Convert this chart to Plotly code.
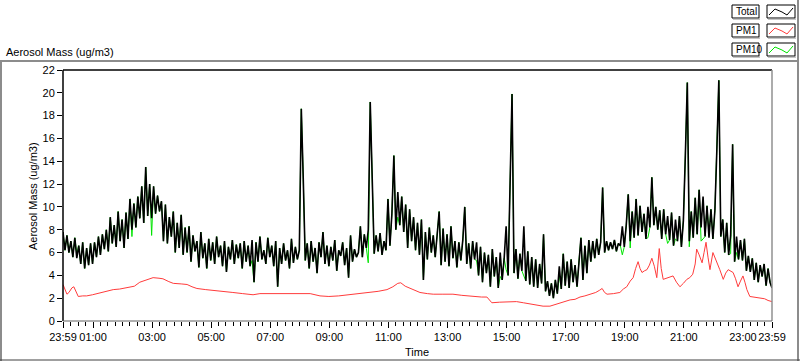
import plotly.graph_objects as go

# ---------------- data ----------------
# Total aerosol mass, one reading every 4 minutes starting at 23:59 (minute 0) to 23:59 next day (minute 1440)
total_values = [
    7.8, 6.2, 7.5, 6.0, 7.0, 5.6, 7.3, 5.5, 6.6, 5.0, 6.9, 4.6, 6.4, 4.9, 6.8,
    5.0, 6.9, 5.6, 7.4, 5.8, 7.6, 6.3, 8.0, 6.1, 9.1, 6.8, 8.4, 6.5, 9.6, 7.0,
    8.9, 6.4, 9.5, 7.2, 10.7, 8.0, 10.3, 8.2, 10.9, 9.0, 11.8, 8.6, 13.5, 9.2, 12.0,
    9.0, 11.8, 9.4, 11.0, 9.6, 10.5, 7.0, 10.2, 6.8, 9.1, 7.4, 9.6, 6.0, 8.6, 6.4,
    9.3, 5.8, 8.2, 6.0, 8.3, 5.2, 7.5, 6.1, 7.0, 4.7, 7.8, 5.5, 6.8, 4.6, 7.2,
    5.3, 6.9, 5.0, 7.4, 5.6, 6.6, 4.8, 7.0, 4.3, 6.5, 5.4, 7.1, 5.0, 6.7, 5.5,
    6.8, 4.6, 7.0, 5.2, 6.6, 4.8, 7.1, 3.4, 6.9, 5.2, 7.4, 5.4, 6.2, 5.0, 7.3,
    5.6, 6.6, 4.8, 7.0, 3.0, 6.4, 5.0, 6.8, 5.3, 6.2, 4.6, 7.2, 5.1, 6.5, 5.4,
    6.2, 18.6, 12.4, 5.3, 6.8, 4.6, 7.0, 5.2, 6.4, 4.2, 6.9, 5.6, 7.8, 5.0, 6.6,
    4.8, 6.5, 5.3, 7.1, 4.4, 6.2, 5.7, 6.9, 4.9, 6.4, 3.8, 7.5, 5.2, 6.3, 5.6,
    6.0, 8.3, 5.6, 7.6, 6.4, 8.0, 19.2, 13.6, 5.9, 7.5, 6.1, 7.7, 5.8, 7.0, 6.2,
    10.7, 6.6, 9.4, 14.5, 8.0, 11.3, 8.4, 10.9, 7.8, 10.2, 6.4, 9.8, 7.0, 9.1, 6.2,
    8.6, 5.8, 8.9, 3.6, 7.8, 5.4, 8.2, 6.0, 7.5, 5.6, 8.0, 9.6, 4.9, 8.1, 5.2,
    7.6, 4.8, 8.3, 5.5, 7.0, 4.7, 6.9, 5.3, 7.1, 10.0, 5.0, 6.8, 4.6, 7.0, 5.4,
    6.9, 4.0, 6.5, 3.4, 6.0, 4.2, 5.8, 3.0, 6.3, 3.9, 5.6, 2.9, 6.0, 3.6, 5.5,
    8.3, 4.0, 12.6, 19.9, 4.2, 6.3, 3.7, 5.9, 4.4, 8.3, 3.5, 6.1, 3.2, 5.6, 3.0,
    5.4, 2.9, 5.0, 3.3, 7.6, 2.6, 3.5, 2.2, 3.3, 2.0, 3.6, 2.4, 4.8, 2.8, 5.9,
    3.1, 5.2, 2.9, 5.4, 3.4, 4.9, 3.0, 5.3, 7.3, 3.6, 6.6, 4.2, 7.1, 5.2, 7.0,
    5.5, 7.2, 5.8, 6.9, 11.7, 6.0, 7.0, 6.2, 6.9, 6.3, 7.1, 6.1, 6.8, 6.6, 8.3,
    6.5, 8.4, 11.1, 7.0, 9.6, 7.3, 10.7, 7.5, 10.1, 7.8, 9.4, 7.2, 10.0, 8.2, 12.6,
    8.4, 10.0, 8.0, 9.7, 7.2, 9.8, 7.6, 9.2, 7.1, 9.5, 6.6, 8.9, 7.0, 9.2, 6.5,
    8.8, 14.5, 20.9, 7.0, 9.6, 7.3, 10.8, 7.6, 11.5, 8.2, 10.9, 7.4, 10.1, 7.3, 9.8,
    7.2, 9.7, 15.0, 21.1, 7.4, 8.9, 6.0, 8.6, 5.8, 7.5, 15.5, 5.2, 7.4, 5.4, 7.1,
    5.3, 7.2, 4.4, 5.7, 4.3, 5.5, 3.6, 5.1, 3.4, 4.9, 3.9, 5.0, 3.1, 4.6, 3.4, 2.9,
]
total_step_min = 4
total_minutes = [i * total_step_min for i in range(len(total_values))]

# PM10 follows Total except where it shows through (minute -> value)
pm10_differences = {
    28: 5.9, 140: 7.4, 180: 7.5, 384: 5.3, 620: 5.1, 680: 9.1, 840: 5.3, 888: 3.9,
    900: 4.5, 936: 4.0, 1008: 4.0, 1136: 5.8, 1152: 6.4, 1188: 7.3, 1228: 6.8,
    1244: 7.2, 1272: 6.5, 1296: 7.0, 1300: 7.2, 1312: 7.6, 1356: 5.9, 1368: 6.0,
}
pm10_values = [pm10_differences.get(m, v) for m, v in zip(total_minutes, total_values)]

pm1_minutes = [
    0, 4, 8, 12, 18, 22, 26, 31, 40, 48, 60, 75, 90, 102, 115, 130, 145, 156, 170, 183,
    195, 203, 215, 224, 240, 252, 262, 272, 290, 305, 325, 345, 365, 386, 400, 414, 440,
    470, 502, 522, 540, 560, 580, 603, 624, 640, 658, 670, 680, 686, 695, 705, 715, 725,
    740, 752, 770, 792, 810, 833, 850, 861, 867, 871, 887, 905, 921, 935, 948, 960, 975,
    989, 1003, 1015, 1030, 1040, 1050, 1060, 1070, 1082, 1090, 1095, 1100, 1105, 1118,
    1131, 1138, 1145, 1152, 1158, 1163, 1168, 1172, 1176, 1181, 1186, 1191, 1196, 1201,
    1206, 1211, 1215, 1219, 1229, 1239, 1246, 1253, 1260, 1267, 1273, 1279, 1284, 1287,
    1292, 1298, 1302, 1306, 1310, 1314, 1320, 1326, 1334, 1341, 1346, 1351, 1356, 1361,
    1366, 1371, 1376, 1381, 1385, 1389, 1395, 1405, 1415, 1425, 1432, 1440,
]
pm1_values = [
    3.2, 2.7, 2.35, 2.5, 2.9, 3.0, 2.6, 2.15, 2.2, 2.2, 2.3, 2.45, 2.6, 2.75, 2.8, 2.9,
    3.05, 3.4, 3.6, 3.8, 3.75, 3.7, 3.45, 3.3, 3.25, 3.2, 3.0, 2.85, 2.75, 2.7, 2.6, 2.5,
    2.4, 2.3, 2.4, 2.4, 2.45, 2.45, 2.4, 2.2, 2.15, 2.2, 2.3, 2.35, 2.5, 2.6, 2.75, 3.0,
    3.3, 3.35, 3.05, 2.85, 2.65, 2.5, 2.4, 2.35, 2.35, 2.35, 2.25, 2.15, 2.1, 2.1, 1.8,
    1.6, 1.65, 1.7, 1.7, 1.6, 1.5, 1.4, 1.3, 1.3, 1.5, 1.65, 1.85, 1.9, 2.1, 2.2, 2.35,
    2.5, 2.7, 2.85, 2.5, 2.35, 2.4, 2.5, 2.8, 3.0, 3.5, 3.8, 4.6, 5.2, 4.6, 4.25, 4.4,
    4.5, 4.9, 5.5, 4.8, 3.8, 6.35, 4.6, 3.65, 3.8, 3.95, 3.4, 3.0, 3.3, 3.65, 3.8, 4.1,
    5.0, 6.3, 5.8, 5.1, 6.0, 6.9, 5.6, 4.5, 6.0, 5.4, 4.5, 3.65, 4.2, 4.5, 4.4, 4.25,
    3.7, 3.0, 3.5, 3.95, 3.4, 2.75, 2.15, 2.1, 2.0, 1.95, 1.8, 1.7,
]

x_tick_minutes = [0, 61, 181, 301, 421, 541, 661, 781, 901, 1021, 1141, 1261, 1381, 1440]
x_tick_labels = ["23:59", "01:00", "03:00", "05:00", "07:00", "09:00", "11:00", "13:00",
                 "15:00", "17:00", "19:00", "21:00", "23:00", "23:59"]
y_tick_values = list(range(0, 23, 2))

series_names = ["Total", "PM1", "PM10"]
series_colors = {"Total": "#000000", "PM1": "#FF3B3B", "PM10": "#00E400"}

# ---------------- layout geometry ----------------
W, H = 800, 361
ML, MR, MT, MB = 63, 28, 70, 40
PW, PH = W - ML - MR, H - MT - MB


def px(x):
    return (x - ML) / PW


def py(y):
    return (H - MB - y) / PH


FONT = "Liberation Sans, Arial, sans-serif"

fig = go.Figure()
fig.add_trace(go.Scatter(x=pm1_minutes, y=pm1_values, mode="lines", name="PM1",
                         line=dict(color=series_colors["PM1"], width=1), showlegend=False))
fig.add_trace(go.Scatter(x=total_minutes, y=pm10_values, mode="lines", name="PM10",
                         line=dict(color=series_colors["PM10"], width=1), showlegend=False))
fig.add_trace(go.Scatter(x=total_minutes, y=total_values, mode="lines", name="Total",
                         line=dict(color=series_colors["Total"], width=1.6), showlegend=False))

# minor ticks: 4 between 23:59 and 01:00, every 15 min afterwards, 4 between 23:00 and 23:59
minor_ticks = [61 * k / 4 for k in range(1, 4)] + list(range(76, 1381, 15)) + \
              [1381 + 59 * k / 4 for k in range(1, 4)]

fig.update_layout(
    width=W, height=H,
    margin=dict(l=ML, r=MR, t=MT, b=MB, autoexpand=False),
    paper_bgcolor="white", plot_bgcolor="white",
    font=dict(family=FONT, size=11, color="black"),
    xaxis=dict(range=[0, 1440], tickmode="array", tickvals=x_tick_minutes,
               ticktext=x_tick_labels, ticks="outside", ticklen=6, tickcolor="black",
               tickwidth=1, showgrid=False, zeroline=False, showline=False,
               tickangle=0, automargin=False,
               tickfont=dict(family=FONT, size=11),
               minor=dict(tickmode="array", tickvals=minor_ticks, ticks="outside",
                          ticklen=4, tickcolor="black", tickwidth=1, showgrid=False)),
    yaxis=dict(range=[0, 22], tickmode="array", tickvals=y_tick_values,
               ticks="outside", ticklen=5, tickcolor="black", tickwidth=1,
               showgrid=False, zeroline=False, showline=False, automargin=False,
               tickfont=dict(family=FONT, size=11)),
)

shapes = []
# outer panel frame
shapes.append(dict(type="line", xref="paper", yref="paper", x0=px(0), x1=px(798), y0=py(61), y1=py(61),
                   line=dict(color="#8C8C8C", width=2)))
shapes.append(dict(type="line", xref="paper", yref="paper", x0=px(1), x1=px(1), y0=py(61), y1=py(361),
                   line=dict(color="#8C8C8C", width=2)))
shapes.append(dict(type="line", xref="paper", yref="paper", x0=px(798), x1=px(798), y0=py(0), y1=py(361),
                   line=dict(color="#8C8C8C", width=2)))
shapes.append(dict(type="line", xref="paper", yref="paper", x0=px(0), x1=px(800), y0=py(360), y1=py(360),
                   line=dict(color="#404040", width=1)))
# plot area frame: top/left black, right/bottom gray
shapes.append(dict(type="line", xref="paper", yref="paper", x0=0, x1=1, y0=1, y1=1,
                   line=dict(color="black", width=1.5)))
shapes.append(dict(type="line", xref="paper", yref="paper", x0=0, x1=0, y0=0, y1=1,
                   line=dict(color="black", width=1.5)))
shapes.append(dict(type="line", xref="paper", yref="paper", x0=1, x1=1, y0=0, y1=1,
                   line=dict(color="#909090", width=1.5)))
shapes.append(dict(type="line", xref="paper", yref="paper", x0=0, x1=1, y0=0, y1=0,
                   line=dict(color="#606060", width=1)))

annotations = []
legend_rows = [(5, 18), (24, 37), (43, 56)]
for name, (ytop, ybot) in zip(series_names, legend_rows):
    shapes.append(dict(type="rect", xref="paper", yref="paper", x0=px(732), x1=px(759),
                       y0=py(ybot), y1=py(ytop), line=dict(color="black", width=1),
                       fillcolor="white"))
    shapes.append(dict(type="line", xref="paper", yref="paper", x0=px(733), x1=px(760),
                       y0=py(ybot + 1), y1=py(ybot + 1), line=dict(color="#8C8C8C", width=1)))
    shapes.append(dict(type="rect", xref="paper", yref="paper", x0=px(767), x1=px(795),
                       y0=py(ybot), y1=py(ytop), line=dict(color="black", width=1),
                       fillcolor="white"))
    shapes.append(dict(type="line", xref="paper", yref="paper", x0=px(768), x1=px(796),
                       y0=py(ybot + 1), y1=py(ybot + 1), line=dict(color="#8C8C8C", width=1)))
    zig = [(769, ybot - 3), (775, ytop + 4), (782, ytop + 7), (787, ybot - 3), (793, ytop + 3)]
    path = "M " + " L ".join(f"{px(a):.5f},{py(b):.5f}" for a, b in zig)
    shapes.append(dict(type="path", xref="paper", yref="paper", path=path,
                       line=dict(color=series_colors[name], width=1)))
    annotations.append(dict(text=name, xref="paper", yref="paper", x=px(733.5), y=py((ytop + ybot) / 2),
                            xanchor="left", yanchor="middle", showarrow=False,
                            font=dict(family=FONT, size=10, color="black")))

annotations.append(dict(text="Aerosol Mass (ug/m3)", xref="paper", yref="paper",
                        x=px(4), y=py(52), xanchor="left", yanchor="middle", showarrow=False,
                        font=dict(family=FONT, size=11, color="black")))
annotations.append(dict(text="Aerosol Mass (ug/m3)", xref="paper", yref="paper",
                        x=px(33), y=py(196), xanchor="center", yanchor="middle", textangle=-90,
                        showarrow=False, font=dict(family=FONT, size=11, color="black")))
annotations.append(dict(text="Time", xref="paper", yref="paper",
                        x=px(417), y=py(352), xanchor="center", yanchor="middle",
                        showarrow=False, font=dict(family=FONT, size=11, color="black")))

fig.update_layout(shapes=shapes, annotations=annotations)
# the page body has a default 8px margin; remove it so the 800x361 figure fills the window
fig.write_html("out.html", config={"displayModeBar": False},
               post_script="document.body.style.margin='0';document.body.style.overflow='hidden';")
